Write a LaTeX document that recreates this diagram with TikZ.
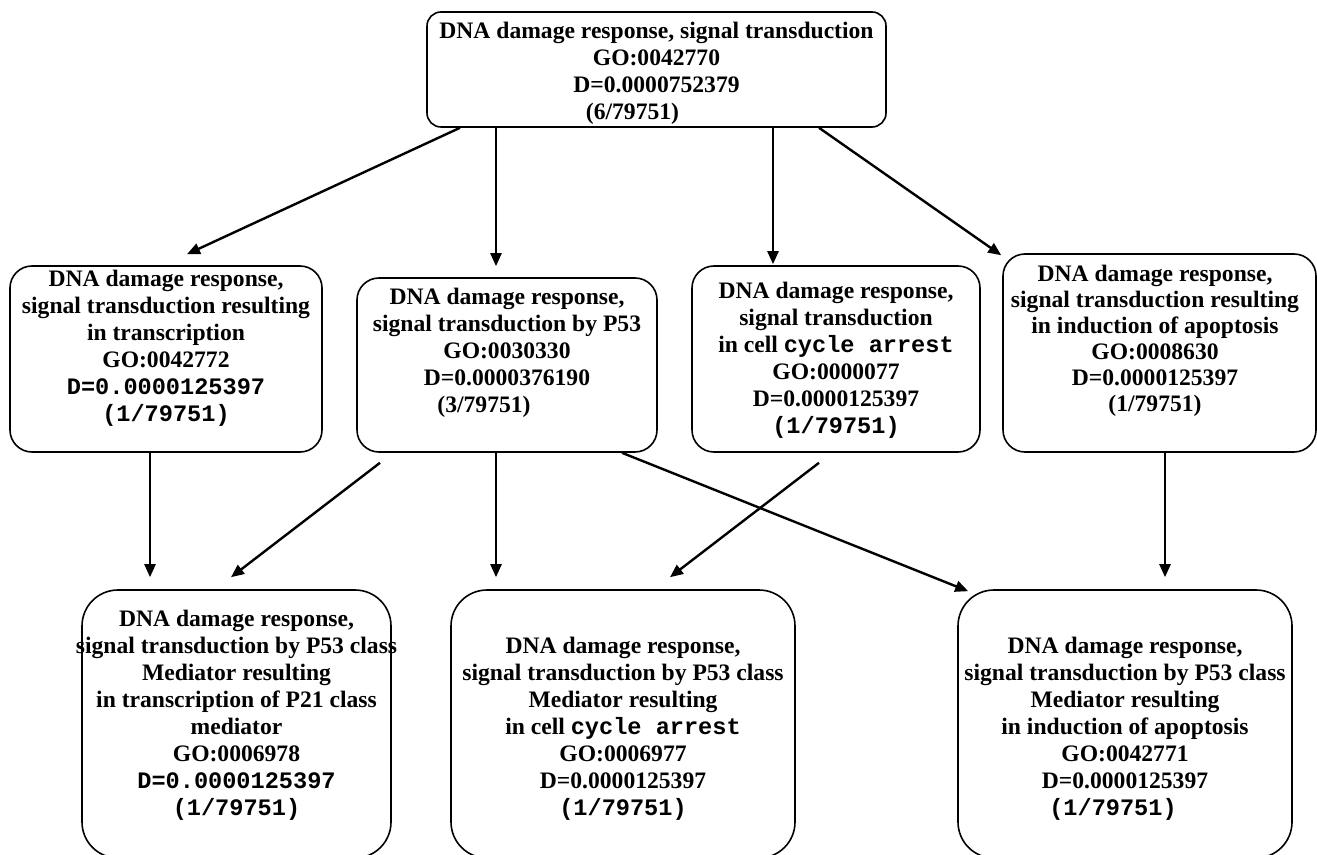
\documentclass[tikz,border=0pt]{standalone}
\usepackage{fontspec}
\setmainfont{Liberation Serif}
\setmonofont{Liberation Mono}
\usetikzlibrary{arrows.meta,calc}

\begin{document}
\begin{tikzpicture}[x=0.5pt, y=-0.5pt,
	box/.style = {draw, line width=0.8pt, inner sep=0pt},
	txt/.style = {anchor=north, inner sep=0pt, align=center, font=\bfseries\fontsize{11.8}{13.5}\selectfont},
	arr/.style = {line width=1.2pt, -{Triangle[length=6.5pt,width=5.5pt]}}]
	\useasboundingbox (0,0) rectangle (1317,855);
	% boxes
	\node[box, rounded corners=7pt, minimum width=229.5pt, minimum height=57.5pt] (top) at (656.5,69.5) {};
	\node[box, rounded corners=11pt, minimum width=156pt, minimum height=93pt] (l1) at (166,359) {};
	\node[box, rounded corners=11pt, minimum width=150pt, minimum height=87pt] (l2) at (507,365) {};
	\node[box, rounded corners=11pt, minimum width=144pt, minimum height=93pt] (l3) at (836,359) {};
	\node[box, rounded corners=11pt, minimum width=156.5pt, minimum height=99pt] (l4) at (1159.5,353) {};
	\node[box, rounded corners=18pt, minimum width=154.5pt, minimum height=134pt] (b1) at (236.5,724) {};
	\node[box, rounded corners=18pt, minimum width=172pt, minimum height=134pt] (b2) at (623,724) {};
	\node[box, rounded corners=18pt, minimum width=167pt, minimum height=134pt] (b3) at (1125,724) {};
	% texts
	\node[txt] (topt) at (656.5,21.5) {DNA damage response, signal transduction\\GO:0042770\\D=0.0000752379\\(6/79751)\hspace*{24pt}};
	\node[txt] (l1t) at (166,269.5) {DNA damage response,\\signal transduction resulting\\in transcription\\GO:0042772\\\texttt{D=0.0000125397}\\\texttt{(1/79751)}};
	\node[txt] (l2t) at (507,287.5) {DNA damage response,\\signal transduction by P53\\GO:0030330\\D=0.0000376190\\(3/79751)\hspace*{23pt}};
	\node[txt] (l3t) at (836,281.5) {DNA damage response,\\signal transduction\\in cell \texttt{cycle arrest}\\GO:0000077\\D=0.0000125397\\\texttt{(1/79751)}};
	\node[txt, font=\bfseries\fontsize{11.8}{13}\selectfont] (l4t) at (1155,264.5) {DNA damage response,\\signal transduction resulting\\in induction of apoptosis\\GO:0008630\\D=0.0000125397\\(1/79751)};
	\node[txt] (b1t) at (236.5,609.5) {DNA damage response,\\signal transduction by P53 class\\Mediator resulting\\in transcription of P21 class\\mediator\\GO:0006978\\\texttt{D=0.0000125397}\\\texttt{(1/79751)}};
	\node[txt] (b2t) at (623,636.5) {DNA damage response,\\signal transduction by P53 class\\Mediator resulting\\in cell \texttt{cycle arrest}\\GO:0006977\\D=0.0000125397\\\texttt{(1/79751)}};
	\node[txt] (b3t) at (1125,636.5) {DNA damage response,\\signal transduction by P53 class\\Mediator resulting\\in induction of apoptosis\\GO:0042771\\D=0.0000125397\\\texttt{(1/79751)}\hspace*{12pt}};
	% arrows
	\draw[arr] ($(top.south)+(-196.5,0)$) -- ($(l1.north)+(21,-11)$);
	\draw[arr] ($(top.south)+(-160.5,0)$) -- ($(l2.north)+(-11,-11)$);
	\draw[arr] ($(top.south)+(116.5,0)$) -- ($(l3.north)+(-63,-1)$);
	\draw[arr] ($(top.south)+(162.5,0)$) -- ($(l4.north west)+(-1,2)$);
	\draw[arr] ($(l1.south)+(-16,0)$) -- ($(b1.north)+(-86.5,-12)$);
	\draw[arr] ($(l2.south)+(-127,10)$) -- ($(b1.north)+(-5.5,-12)$);
	\draw[arr] ($(l2.south)+(-11,0)$) -- ($(b2.north)+(-127,-12)$);
	\draw[arr] ($(l3.south)+(-17,10)$) -- ($(b2.north)+(47,-12)$);
	\draw[arr] ($(l2.south)+(115,0)$) -- ($(b3.north west)+(11,2)$);
	\draw[arr] ($(l4.south)+(5.5,0)$) -- ($(b3.north)+(40,-12)$);
\end{tikzpicture}
\end{document}
